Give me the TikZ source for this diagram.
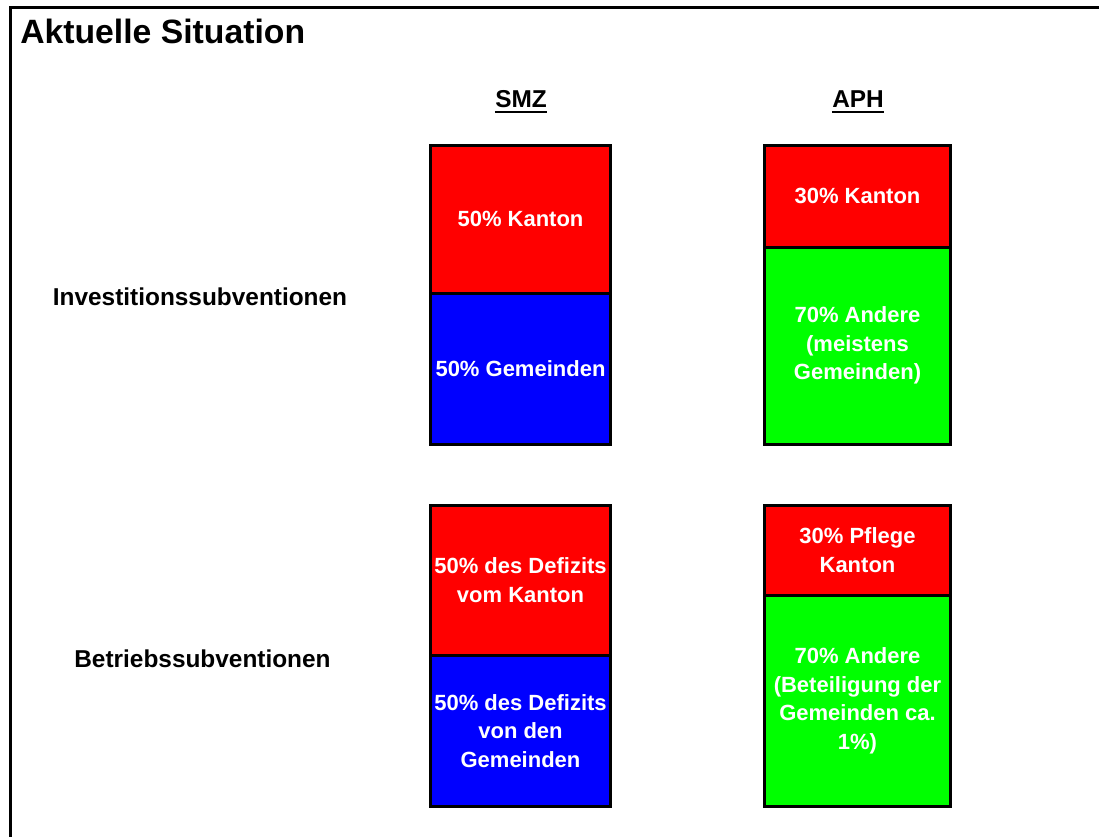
\documentclass[tikz,border=0pt]{standalone}
\usepackage{fontspec}
\setmainfont{Liberation Sans}
\usepackage{tikz}
\usetikzlibrary{positioning}

\begin{document}
\begin{tikzpicture}[x=0.75pt,y=-0.75pt,
    seg/.style={draw, line width=2.25pt, outer sep=0pt, inner sep=0pt,
        text=white, align=center, font=\fontsize{16.5}{21.4}\selectfont\bfseries},
    smzcol/.style={seg, minimum width=135pt},
    aphcol/.style={seg, minimum width=139.5pt},
    rowlabel/.style={anchor=base, font=\fontsize{18.3}{22}\selectfont\bfseries},
    colhead/.style={anchor=base, inner sep=0pt, font=\fontsize{18.3}{22}\selectfont\bfseries}]
    \useasboundingbox (0,0) rectangle (1099,836);
    \clip (0,0) rectangle (1099,836);
    % frame, cut off at right and bottom
    \draw[line width=2.25pt] (10.5,900) -- (10.5,7) -- (1150,7);
    \node[anchor=base west, inner sep=0pt, font=\fontsize{25.3}{30}\selectfont\bfseries]
        (title) at (20,43) {Aktuelle Situation};

    % column heads
    \node[colhead] (smzhead) at (521,107) {SMZ};
    \node[colhead] (aphhead) at (858,107) {APH};
    \draw[line width=1.5pt] ([yshift=-4pt]smzhead.base west) -- ([yshift=-4pt]smzhead.base east);
    \draw[line width=1.5pt] ([yshift=-4pt]aphhead.base west) -- ([yshift=-4pt]aphhead.base east);

    % row labels
    \node[rowlabel] (invest) at (200,305) {Investitionssubventionen};
    \node[rowlabel] (betrieb) at (202.5,667) {Betriebssubventionen};

    % Investitionssubventionen
    \node[smzcol, fill=red, minimum height=110.625pt, anchor=north] (smzinvk) at (520.5,145.5) {50\% Kanton};
    \node[smzcol, fill=blue, minimum height=113.625pt, below=0pt of smzinvk] (smzinvg) {50\% Gemeinden};
    \node[aphcol, fill=red, minimum height=76.125pt, anchor=north] (aphinvk) at (857.5,145.5) {30\% Kanton};
    \node[aphcol, fill=green, minimum height=148.125pt, below=0pt of aphinvk] (aphinva)
        {70\% Andere\\(meistens\\Gemeinden)};

    % Betriebssubventionen
    \node[smzcol, fill=red, minimum height=112.125pt, anchor=north] (smzbetk) at (520.5,505.5)
        {50\% des Defizits\\vom Kanton};
    \node[smzcol, fill=blue, minimum height=113.625pt, below=0pt of smzbetk] (smzbetg)
        {50\% des Defizits\\von den\\Gemeinden};
    \node[aphcol, fill=red, minimum height=67.125pt, anchor=north] (aphbetk) at (857.5,505.5)
        {30\% Pflege\\Kanton};
    \node[aphcol, fill=green, minimum height=158.625pt, below=0pt of aphbetk] (aphbeta)
        {70\% Andere\\(Beteiligung der\\Gemeinden ca.\\1\%)};
\end{tikzpicture}
\end{document}
